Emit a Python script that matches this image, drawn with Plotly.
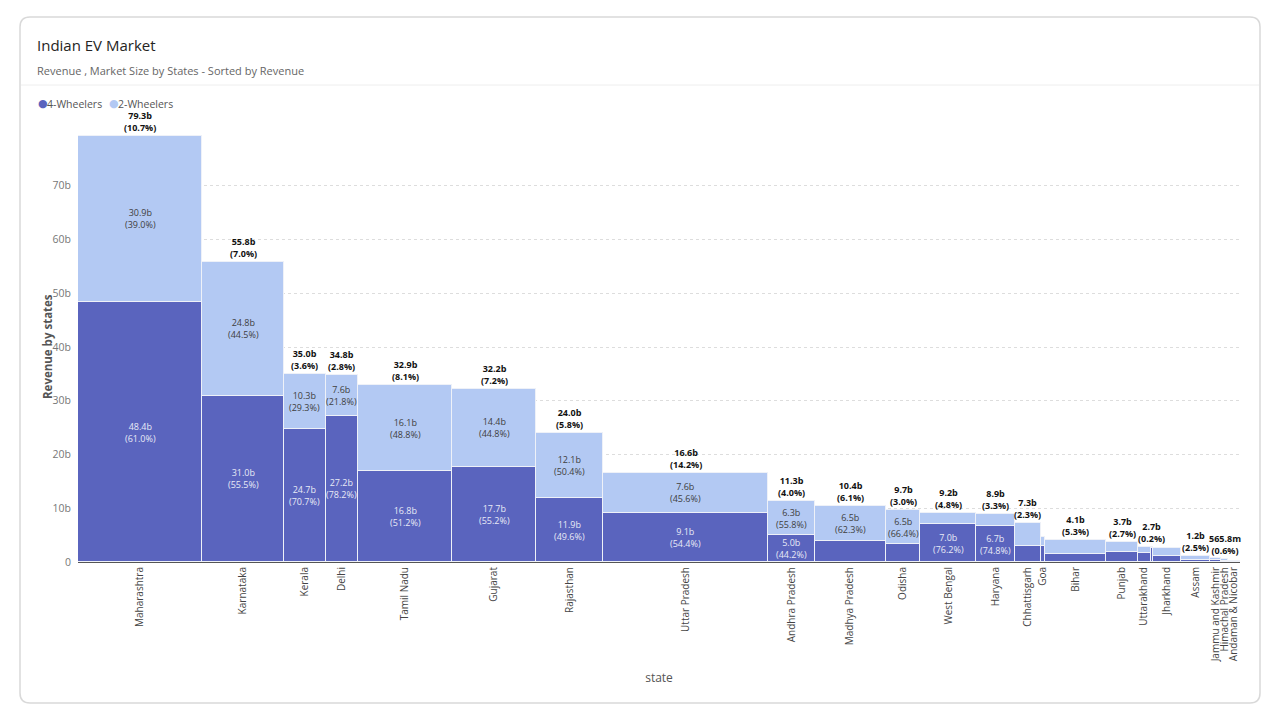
import plotly.graph_objects as go

# ---------------- data ----------------
states = ["Maharashtra", "Karnataka", "Kerala", "Delhi", "Tamil Nadu", "Gujarat",
          "Rajasthan", "Uttar Pradesh", "Andhra Pradesh", "Madhya Pradesh", "Odisha",
          "West Bengal", "Haryana", "Chhattisgarh", "Goa", "Bihar", "Punjab",
          "Uttarakhand", "Chandigarh", "Jharkhand", "Assam", "Jammu and Kashmir",
          "Himachal Pradesh", "Andaman & Nicobar"]
four_wheelers = [48.37, 30.97, 24.74, 27.21, 16.84, 17.74, 11.90, 9.06, 4.99, 3.92, 3.27,
                 7.01, 6.66, 2.90, 3.00, 1.40, 1.80, 1.60, 2.60, 1.10, 0.40, 0.30,
                 0.20, 0.04]
two_wheelers = [30.93, 24.83, 10.26, 7.59, 16.06, 14.42, 12.10, 7.58, 6.31, 6.48, 6.46,
                2.19, 2.24, 4.40, 1.60, 2.70, 1.90, 1.20, 0.10, 1.50, 0.80, 0.50,
                0.3658, 0.06]
market_pct = [10.7, 7.0, 3.6, 2.8, 8.1, 7.2, 5.8, 14.2, 4.0, 6.1, 3.0, 4.8, 3.3, 2.3,
              0.3, 5.3, 2.7, 1.1, 0.2, 2.4, 2.5, 1.0, 0.6, 1.0]
series_names = ["4-Wheelers", "2-Wheelers"]
y_ticks = [0, 10, 20, 30, 40, 50, 60, 70]

# ---------------- layout constants ----------------
W, H = 1280, 720
ML, MR, MT, MB = 78, 40, 132, 158
PW, PH = W - ML - MR, H - MT - MB
Y_MAX = 80
FONT = "Open Sans"
DARK = "#5A64BE"
LIGHT = "#B3C9F3"
COLORS = [DARK, LIGHT]

px_per_x = PW / 100.0
px_per_y = PH / Y_MAX


def fmt(v):
    return f"{v:.1f}b" if v >= 1 else f"{v * 1000:.1f}m"


def px_x(v):
    return ML + v * px_per_x


def px_y(v):
    return MT + PH - v * px_per_y


def paper_x(p):
    return (p - ML) / PW


def paper_y(p):
    return (MT + PH - p) / PH


totals = [a + b for a, b in zip(four_wheelers, two_wheelers)]
lefts = []
acc = 0.0
for w in market_pct:
    lefts.append(acc)
    acc += w
centers = [l + w / 2 for l, w in zip(lefts, market_pct)]

fig = go.Figure()
for name, vals, col in zip(series_names, [four_wheelers, two_wheelers], COLORS):
    fig.add_trace(go.Bar(
        x=centers, y=vals, width=market_pct, name=name, showlegend=False,
        marker=dict(color=col, line=dict(color="#EEF1F8", width=1)),
        customdata=states, hovertemplate="%{customdata}<br>%{y:.1f}b<extra>" + name + "</extra>",
    ))

annotations = []

# inner segment labels
for i in range(len(states)):
    wpx = market_pct[i] * px_per_x
    base = 0.0
    for vals, col in [(four_wheelers, "#E8EAF6"), (two_wheelers, "#404040")]:
        v = vals[i]
        hpx = v * px_per_y
        if wpx >= 30 and hpx >= 24:
            annotations.append(dict(
                x=centers[i], y=base + v / 2, xref="x", yref="y", showarrow=False,
                text=f"{fmt(v)}<br>({v / totals[i] * 100:.1f}%)",
                font=dict(family=FONT, size=9, color=col), align="center",
            ))
        base += v

# top total labels with overlap avoidance
kept_boxes = []
for i in range(len(states)):
    line1 = fmt(totals[i])
    line2 = f"({market_pct[i]:.1f}%)"
    bw = 4.2 * max(len(line1), len(line2))
    cx = px_x(centers[i])
    ty = px_y(totals[i])
    box = (cx - bw / 2, cx + bw / 2, ty - 22, ty)
    clash = any(not (box[1] <= b[0] or box[0] >= b[1] or box[3] <= b[2] or box[2] >= b[3])
                for b in kept_boxes)
    if clash:
        continue
    kept_boxes.append(box)
    annotations.append(dict(
        x=centers[i], y=totals[i], xref="x", yref="y", showarrow=False,
        yanchor="bottom", yshift=0,
        text=f"<b>{line1}</b><br><b>{line2}</b>",
        font=dict(family=FONT, size=9, color="#111111"), align="center",
    ))

# x tick labels with overlap avoidance
tick_vals, tick_text = [], []
last = None
for c, s in zip(centers, states):
    p = px_x(c)
    if last is None or p - last >= 8:
        tick_vals.append(c)
        tick_text.append(s)
        last = p

# titles
annotations.append(dict(x=paper_x(35), y=paper_y(45), xref="paper", yref="paper",
                        xanchor="left", yanchor="middle", showarrow=False,
                        text="Indian EV Market", font=dict(family=FONT, size=15, color="#252423")))
annotations.append(dict(x=paper_x(35), y=paper_y(70), xref="paper", yref="paper",
                        xanchor="left", yanchor="middle", showarrow=False,
                        text="Revenue , Market Size by States - Sorted by Revenue",
                        font=dict(family=FONT, size=11, color="#666666")))
# legend (circle markers + names)
legend_x = [36, 107]
for n, c, lx in zip(series_names, COLORS, legend_x):
    annotations.append(dict(x=paper_x(lx), y=paper_y(103.5), xref="paper", yref="paper",
                            xanchor="left", yanchor="middle", showarrow=False,
                            text="●", font=dict(family="DejaVu Sans", size=11, color=c)))
    annotations.append(dict(x=paper_x(lx + 9), y=paper_y(104), xref="paper", yref="paper",
                            xanchor="left", yanchor="middle", showarrow=False,
                            text=n, font=dict(family=FONT, size=10.5, color="#555555")))
# y-axis title
annotations.append(dict(x=paper_x(47), y=0.5, xref="paper", yref="paper",
                        xanchor="center", yanchor="middle", showarrow=False, textangle=-90,
                        text="<b>Revenue by states</b>",
                        font=dict(family=FONT, size=11.5, color="#555555")))


# card path (rounded rectangle) in paper coords
def rounded_rect(x0, y0, x1, y1, r):
    X0, X1 = paper_x(x0), paper_x(x1)
    Y0, Y1 = paper_y(y0), paper_y(y1)
    rx, ry = r / PW, r / PH
    return (f"M {X0 + rx},{Y0} L {X1 - rx},{Y0} Q {X1},{Y0} {X1},{Y0 - ry} "
            f"L {X1},{Y1 + ry} Q {X1},{Y1} {X1 - rx},{Y1} L {X0 + rx},{Y1} "
            f"Q {X0},{Y1} {X0},{Y1 + ry} L {X0},{Y0 - ry} Q {X0},{Y0} {X0 + rx},{Y0} Z")


shapes = [
    dict(type="path", xref="paper", yref="paper", layer="below",
         path=rounded_rect(20, 17, 1260, 703, 10),
         line=dict(color="#D9D9D9", width=1.5), fillcolor="white"),
    dict(type="line", xref="paper", yref="paper", layer="below",
         x0=paper_x(21), x1=paper_x(1259), y0=paper_y(85), y1=paper_y(85),
         line=dict(color="#EEEEEE", width=1)),
]

fig.update_layout(
    width=W, height=H,
    margin=dict(l=ML, r=MR, t=MT, b=MB, autoexpand=False),
    paper_bgcolor="white", plot_bgcolor="rgba(0,0,0,0)",
    barmode="stack", bargap=0,
    font=dict(family=FONT, color="#555555"),
    showlegend=False,
    xaxis=dict(range=[0, 100], tickmode="array", tickvals=tick_vals, ticktext=tick_text,
               tickangle=-90, tickfont=dict(family=FONT, size=10, color="#444444"),
               showgrid=False, zeroline=False, showline=True, linecolor="#555555",
               linewidth=1, ticks="", ticklen=0,
               title=dict(text="state", font=dict(family=FONT, size=12, color="#555555"),
                          standoff=12)),
    yaxis=dict(range=[0, Y_MAX], tickmode="array", tickvals=y_ticks,
               ticktext=[("0" if t == 0 else f"{t}b") for t in y_ticks],
               tickfont=dict(family=FONT, size=10.5, color="#777777"),
               showgrid=True, gridcolor="#DDDDDD", griddash="dot", gridwidth=1,
               zeroline=False, showline=False, ticks="", ticklabelstandoff=6),
    annotations=annotations,
    shapes=shapes,
)

fig.write_html("out.html", config={"displayModeBar": False},
               post_script="document.body.style.margin='0';")
